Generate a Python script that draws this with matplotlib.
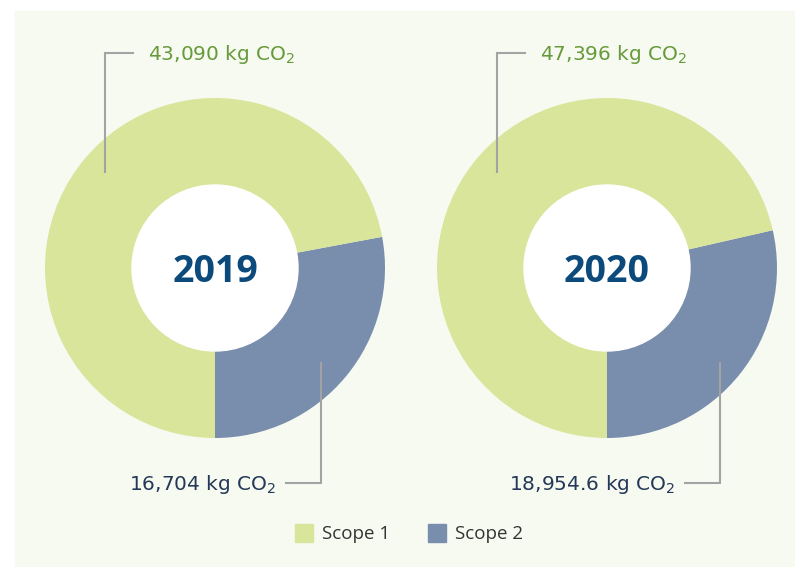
import numpy as np
import matplotlib.pyplot as plt
from matplotlib.patches import Rectangle, Circle

plt.rcParams['font.family'] = ['Open Sans', 'DejaVu Sans']
plt.rcParams['mathtext.fontset'] = 'custom'
plt.rcParams['mathtext.rm'] = 'DejaVu Sans'

# data
years = ['2019', '2020']
scope1 = [43090, 47396]
scope2 = [16704, 18954.6]
scope1_labels = ['43,090', '47,396']
scope2_labels = ['16,704', '18,954.6']
series = ['Scope 1', 'Scope 2']

c_s1 = '#d8e59b'
c_s2 = '#798ead'
c_bg = '#f7faf1'
c_line = '#a3a3a3'
c_green = '#669a3a'
c_navy = '#243857'
c_year = '#0b4a7b'

W, H = 795, 567
fig = plt.figure(figsize=(W / 100, H / 100), dpi=100)
ax = fig.add_axes([0, 0, 1, 1])
ax.set_xlim(0, W)
ax.set_ylim(0, H)
ax.set_aspect('equal')
ax.axis('off')

def Y(y):
    # image pixel row -> data y
    return H - y

ax.add_patch(Rectangle((15, 0), W - 15, Y(11), color=c_bg, zorder=0))

centers = [215, 607]
R, r_in = 170, 83

for i, cx in enumerate(centers):
    cy = Y(268)
    ax.pie([scope2[i], scope1[i]], colors=[c_s2, c_s1], startangle=-90,
           counterclock=True, radius=R, center=(cx, cy),
           wedgeprops=dict(linewidth=0), frame=True)
    ax.add_patch(Circle((cx, cy), r_in, color='white', zorder=5))
    ax.text(cx, cy - 4, years[i], ha='center', va='center', fontsize=27,
            fontweight='bold', color=c_year, zorder=6)

    # scope 1 callout
    lx = cx - 110
    ax.plot([lx, lx, lx + 28], [Y(172), Y(53), Y(53)], color=c_line,
            lw=1.5, zorder=7, solid_joinstyle='miter')
    ax.text(lx + 43, Y(55), scope1_labels[i] + ' kg CO$_{2}$', ha='left',
            va='center', fontsize=14.5, family='DejaVu Sans', color=c_green, zorder=7)

    # scope 2 callout
    rx = cx + 106 if i == 0 else cx + 113
    ax.plot([rx, rx, rx - 35], [Y(363), Y(483), Y(483)], color=c_line,
            lw=1.5, zorder=7, solid_joinstyle='miter')
    ax.text(rx - 45, Y(485), scope2_labels[i] + ' kg CO$_{2}$', ha='right',
            va='center', fontsize=14.5, family='DejaVu Sans', color=c_navy, zorder=7)

ax.set_xlim(0, W)
ax.set_ylim(0, H)
ax.axis('off')

# legend
for x0, lab, col in [(295, series[0], c_s1), (428, series[1], c_s2)]:
    ax.add_patch(Rectangle((x0, Y(542)), 18, 18, color=col, zorder=7))
    ax.text(x0 + 27, Y(534), lab, ha='left', va='center', fontsize=13.5,
            color='#333333', zorder=7)

fig.savefig('out.png', dpi=100, facecolor='white')
